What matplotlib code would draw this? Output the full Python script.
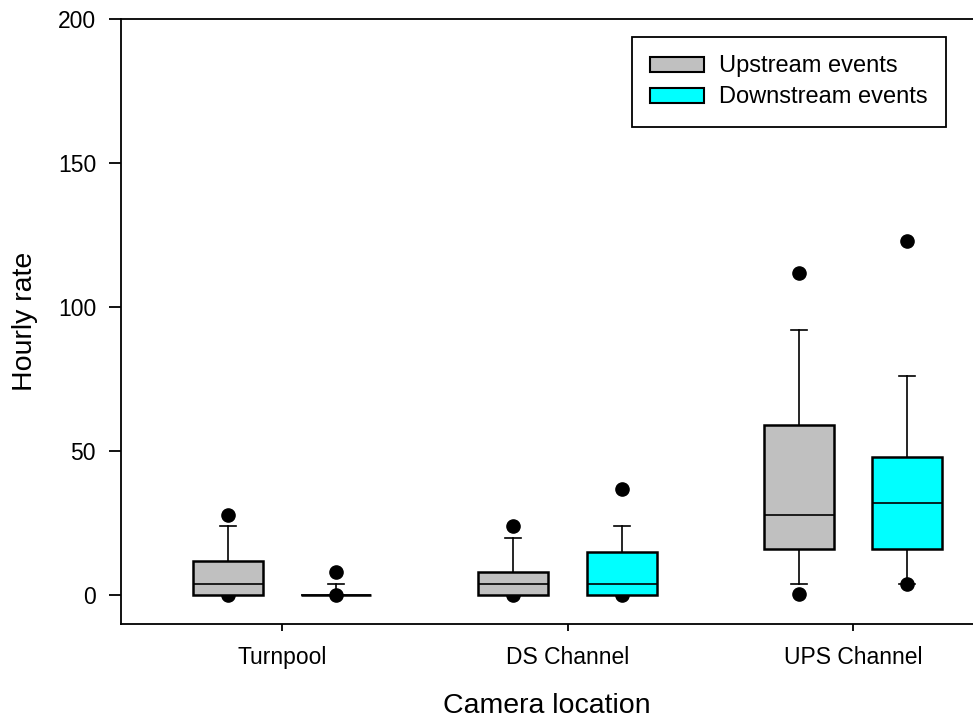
import matplotlib.pyplot as plt
from matplotlib.patches import Patch

plt.rcParams['font.family'] = ['Liberation Sans', 'DejaVu Sans']

# camera locations on the x axis
locations = ['Turnpool', 'DS Channel', 'UPS Channel']
series = ['Upstream events', 'Downstream events']
colors = ['#C0C0C0', '#00FFFF']

# box statistics per location (hourly rate)
up_q1 = [0, 0, 16]
up_med = [4, 4, 28]
up_q3 = [12, 8, 59]
up_whislo = [0, 0, 4]
up_whishi = [24, 20, 92]
up_fliers = [[28, 0], [24, 0], [112, 0.3]]

down_q1 = [0, 0, 16]
down_med = [0, 4, 32]
down_q3 = [0, 15, 48]
down_whislo = [0, 0, 4]
down_whishi = [4, 24, 76]
down_fliers = [[8, 0], [37, 0], [123, 4]]


def make_stats(q1, med, q3, lo, hi, fl):
    out = []
    for i in range(len(q1)):
        out.append(dict(q1=q1[i], med=med[i], q3=q3[i], whislo=lo[i],
                        whishi=hi[i], fliers=fl[i]))
    return out


fig = plt.figure(figsize=(9.73, 7.21), dpi=100)
ax = fig.add_axes([121 / 973, 97 / 721, 852 / 973, 605 / 721])

offset = 0.19
width = 0.245
stats = [make_stats(up_q1, up_med, up_q3, up_whislo, up_whishi, up_fliers),
         make_stats(down_q1, down_med, down_q3, down_whislo, down_whishi, down_fliers)]

for k, st in enumerate(stats):
    pos = [i + 1 + (k * 2 - 1) * offset for i in range(len(locations))]
    ax.bxp(st, positions=pos, widths=width, patch_artist=True,
           capwidths=0.056, manage_ticks=False,
           boxprops=dict(facecolor=colors[k], edgecolor='black', linewidth=1.8, zorder=3),
           medianprops=dict(color='black', linewidth=1.2, zorder=4),
           whiskerprops=dict(color='black', linewidth=1.2, zorder=2),
           capprops=dict(color='black', linewidth=1.2, zorder=2),
           flierprops=dict(marker='o', markerfacecolor='black', markeredgecolor='black',
                           markersize=9.5, zorder=2.5))

ax.set_xlim(1 - 161 / 285.5, 3 + 120 / 285.5)
ax.set_ylim(-10, 200)
ax.set_yticks([0, 50, 100, 150, 200])
ax.set_xticks([1, 2, 3])
ax.set_xticklabels(locations)
ax.spines['right'].set_visible(False)
for s in ['top', 'bottom', 'left']:
    ax.spines[s].set_linewidth(1.3)
ax.tick_params(axis='y', direction='out', length=9, width=1.3, labelsize=16.5, pad=9)
ax.tick_params(axis='x', direction='out', length=5, width=1.3, labelsize=16.5, pad=11)

ax.set_xlabel('Camera location', fontsize=20.5, labelpad=17)
ax.set_ylabel('Hourly rate', fontsize=20.5, labelpad=14)

handles = [Patch(facecolor=colors[k], edgecolor='black', linewidth=1.5, label=series[k])
           for k in range(2)]
leg = ax.legend(handles=handles, loc='upper right', bbox_to_anchor=(946 / 973, 1 - 37 / 721),
                bbox_transform=fig.transFigure, borderaxespad=0, fontsize=17,
                fancybox=False, framealpha=1, edgecolor='black', borderpad=0.78,
                handlelength=2.3, handleheight=0.6, handletextpad=0.62, labelspacing=0.38)
leg.get_frame().set_linewidth(1.3)

fig.savefig('out.png', dpi=100)
